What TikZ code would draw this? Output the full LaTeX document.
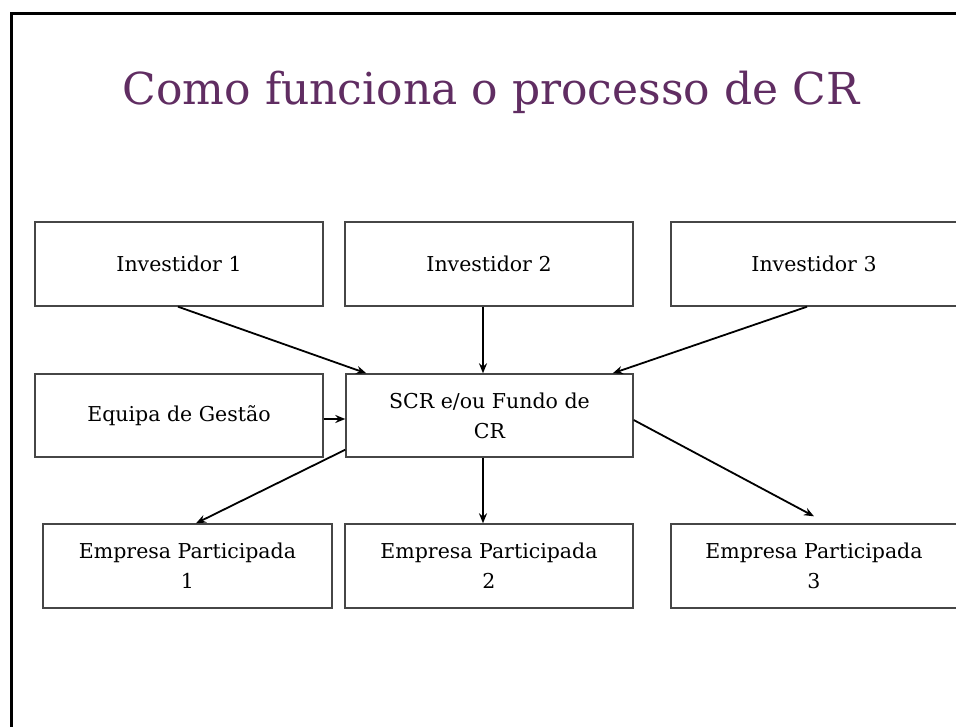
\documentclass[tikz,border=0pt]{standalone}
\usepackage{fontspec}
\setmainfont{DejaVu Serif}
\usetikzlibrary{arrows.meta}
\definecolor{titlepurple}{RGB}{96,45,98}
\definecolor{boxgray}{RGB}{70,70,70}
\begin{document}
\begin{tikzpicture}[x=1pt,y=-1pt,
  box/.style={draw=boxgray, line width=1.4pt, rectangle, inner sep=0pt, align=center,
    font=\fontsize{20.5}{30}\selectfont, minimum height=84pt},
  conn/.style={line width=1.8pt, -{Stealth[length=10pt,width=8pt]}}]
\clip (0,0) rectangle (956,727);
\fill[white] (0,0) rectangle (956,727);
\draw[line width=3pt] (11,740) -- (11,14) -- (970,14);
\node[anchor=base, text=titlepurple, font=\fontsize{44}{50}\selectfont] (title) at (491,105) {Como funciona o processo de CR};
\node[box, minimum width=288pt] (inv1) at (179,264) {Investidor 1};
\node[box, minimum width=288pt] (inv2) at (489,264) {Investidor 2};
\node[box, minimum width=286pt] (inv3) at (814,264) {Investidor 3};
\node[box, minimum width=288pt, minimum height=83pt] (eq) at (179,415.5) {Equipa de Gestão};
\node[box, minimum width=287pt, minimum height=83pt] (scr) at (489.5,415.5) {SCR e/ou Fundo de\\CR};
\node[box, minimum width=289pt] (emp1) at (187.5,566) {Empresa Participada\\1};
\node[box, minimum width=288pt] (emp2) at (489,566) {Empresa Participada\\2};
\node[box, minimum width=286pt] (emp3) at (814,566) {Empresa Participada\\3};
\draw[conn] ([xshift=-1pt]inv1.south) -- ([xshift=21pt]scr.north west);
\draw[conn] ([xshift=-6pt]inv2.south) -- ([xshift=-6.5pt]scr.north);
\draw[conn] ([xshift=-7pt]inv3.south) -- ([xshift=-21pt]scr.north east);
\draw[conn] ([yshift=-3.5pt]eq.east) -- ([yshift=-3.5pt]scr.west);
\draw[conn] ([yshift=8pt]scr.south west) -- ([xshift=8.5pt]emp1.north);
\draw[conn] ([xshift=-6.5pt]scr.south) -- ([xshift=-6pt]emp2.north);
\draw[conn] ([yshift=-4.5pt]scr.east) -- ([yshift=7pt]emp3.north);
\end{tikzpicture}
\end{document}
